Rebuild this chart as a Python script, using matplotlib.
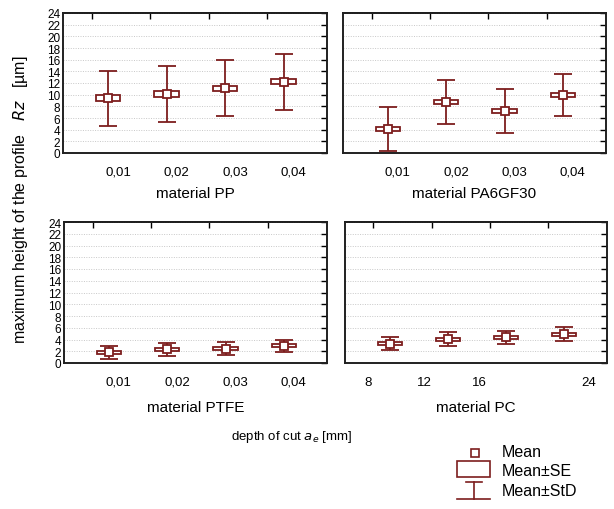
import numpy as np
import matplotlib
matplotlib.use('Agg')
import matplotlib.pyplot as plt

plt.rcParams['font.family'] = ['Liberation Sans', 'DejaVu Sans']

# data (mean, standard error, standard deviation)
pp_mean = [9.4, 10.1, 11.1, 12.2]
pp_se = [0.5, 0.5, 0.45, 0.45]
pp_sd = [4.7, 4.8, 4.8, 4.8]

pa_mean = [4.15, 8.75, 7.2, 9.95]
pa_se = [0.37, 0.37, 0.4, 0.37]
pa_sd = [3.8, 3.7, 3.8, 3.65]

ptfe_mean = [1.8, 2.3, 2.45, 2.95]
ptfe_se = [0.28, 0.28, 0.28, 0.28]
ptfe_sd = [1.1, 1.05, 1.05, 1.05]

pc_mean = [3.3, 4.05, 4.35, 4.9]
pc_se = [0.28, 0.28, 0.28, 0.28]
pc_sd = [1.1, 1.15, 1.05, 1.15]

depth_labels = ['0,01', '0,02', '0,03', '0,04']
pc_labels = ['8', '12', '16', '24']
materials = ['material PP', 'material PA6GF30', 'material PTFE', 'material PC']

col = '#7d1e1e'
W, H = 614, 510
fig = plt.figure(figsize=(W/100, H/100), dpi=100)

def px_axes(l, t, r, b):
	return fig.add_axes([l/W, 1-b/H, (r-l)/W, (b-t)/H])

ax1 = px_axes(63, 14, 327, 154)
ax2 = px_axes(343, 14, 606, 154)
ax3 = px_axes(64, 223, 327, 364)
ax4 = px_axes(345, 223, 607, 364)

panels = [
	(ax1, pp_mean, pp_se, pp_sd, depth_labels, [1.17, 2.17, 3.17, 4.17]),
	(ax2, pa_mean, pa_se, pa_sd, depth_labels, [1.17, 2.17, 3.17, 4.17]),
	(ax3, ptfe_mean, ptfe_se, ptfe_sd, depth_labels, [1.17, 2.17, 3.17, 4.17]),
	(ax4, pc_mean, pc_se, pc_sd, pc_labels, [0.62, 1.6, 2.55, 4.42]),
]

x = np.arange(1, 5)
for i, (ax, m, se, sd, labs, tickpos) in enumerate(panels):
	m = np.array(m); se = np.array(se); sd = np.array(sd)
	ax.errorbar(x, m, yerr=sd, fmt='none', ecolor=col, elinewidth=1.3, capsize=6.5, capthick=1.3, zorder=3)
	ax.bar(x, 2*se, bottom=m-se, width=0.42, facecolor='white', edgecolor=col, linewidth=1.3, zorder=4)
	ax.plot(x, m, 's', mfc='white', mec=col, mew=1.3, ms=5.5, zorder=5)

	ax.set_xlim(0.23, 4.74)
	ax.set_ylim(0, 24)
	ax.set_yticks(np.arange(0, 25, 2))
	ax.yaxis.grid(True, linestyle=(0, (1, 1.5)), color='#c8c8c8', linewidth=0.7)
	ax.set_axisbelow(True)
	ax.tick_params(axis='y', left=False, right=True, direction='in', length=4, width=1,
		labelleft=(i % 2 == 0), labelsize=8.5, pad=2)
	ax.set_xticks(tickpos)
	ax.set_xticklabels(labs, fontsize=9.5)
	ax.tick_params(axis='x', bottom=False, length=0, pad=9)
	sec = ax.secondary_xaxis('top')
	sec.set_xticks(x - 0.28)
	sec.set_xticklabels([])
	sec.tick_params(direction='in', length=4, width=1)
	sec.spines['top'].set_linewidth(1.4)
	for s in ax.spines.values():
		s.set_linewidth(1.4)
		s.set_color('#202020')
	ax.set_xlabel(materials[i], fontsize=11, labelpad=6 if i < 2 else 9)

for t in ax1.get_yticklabels() + ax3.get_yticklabels():
	t.set_fontstretch('condensed')

fig.text(21/W, 1-200/H, r'maximum height of the profile   $\mathit{Rz}$   [µm]', rotation=90,
	ha='center', va='center', fontsize=11.5)
fig.text(292/W, 1-437/H, r'depth of cut $\mathit{a}_{\mathit{e}}$ [mm]', ha='center', va='center', fontsize=9.5)

# legend drawn in an overlay axes in pixel units
lg = fig.add_axes([0, 0, 1, 1], facecolor='none')
lg.set_xlim(0, W); lg.set_ylim(H, 0); lg.axis('off')
lg.plot([475], [454], 's', mfc='white', mec=col, mew=1.2, ms=5.5)
lg.add_patch(plt.Rectangle((457, 462), 33, 16, fill=False, edgecolor=col, linewidth=1.2))
lg.plot([466, 482], [483, 483], color=col, lw=1.2)
lg.plot([474, 474], [483, 500], color=col, lw=1.2)
lg.plot([457, 490], [500, 500], color=col, lw=1.2)
lg.text(502, 453, 'Mean', va='center', fontsize=11.5)
lg.text(502, 472, 'Mean±SE', va='center', fontsize=11.5)
lg.text(502, 492, 'Mean±StD', va='center', fontsize=11.5)

fig.savefig('out.png', dpi=100)
